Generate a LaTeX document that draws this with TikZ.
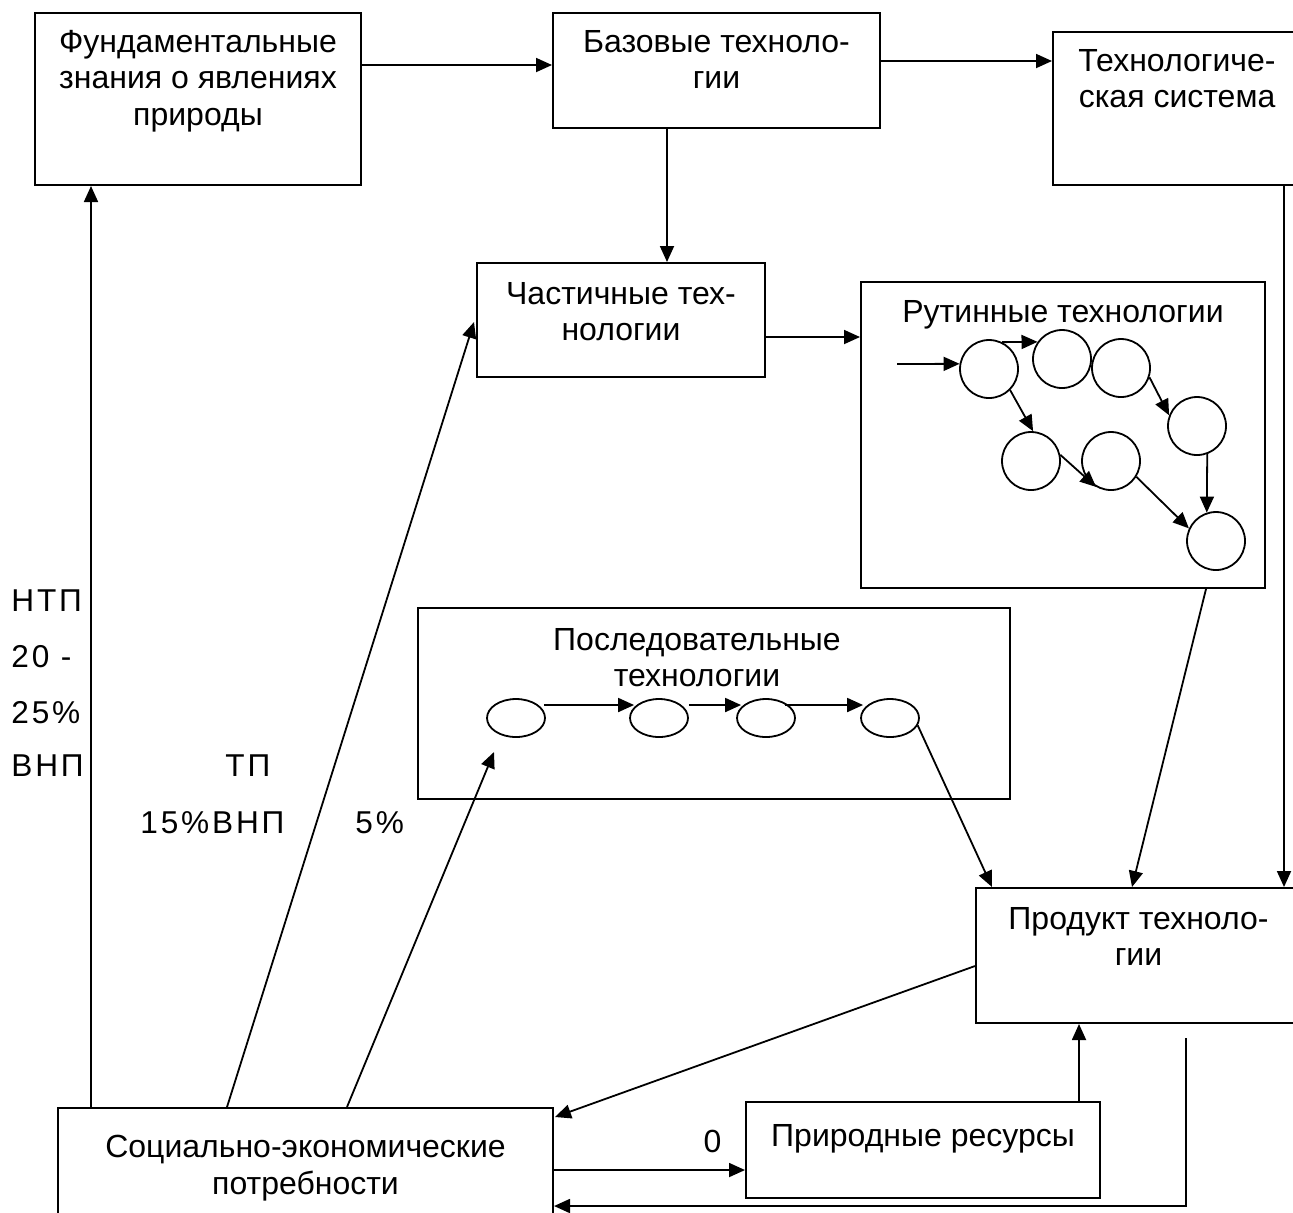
\documentclass[tikz,border=0pt]{standalone}
\usepackage{fontspec}
\setmainfont{Liberation Sans}
\newfontfamily\spcfont[LetterSpace=9]{Liberation Sans}
\usetikzlibrary{arrows.meta,fit,shapes.geometric}
\begin{document}
\begin{tikzpicture}[x=0.5pt,y=-0.5pt,
  box/.style={draw, line width=1pt, inner sep=0pt, rectangle},
  txt/.style={align=center, inner sep=0pt, font=\fontsize{16pt}{18.2pt}\selectfont},
  lbl/.style={inner sep=0pt, anchor=base west, font=\spcfont\fontsize{15.8pt}{18pt}\selectfont},
  arr/.style={line width=0.9pt, -{Triangle[length=8pt,width=7pt]}},
  circ/.style={draw, circle, line width=0.9pt, minimum size=29pt, inner sep=0pt},
  ell/.style={draw, ellipse, line width=0.9pt, minimum width=29pt, minimum height=19pt, inner sep=0pt},
]
\useasboundingbox (0,0) rectangle (1293,1212);
\clip (0,0) rectangle (1293,1212);

% boxes
\node[box, fit={(35,13) (361,185)}] (fund) {};
\node[box, fit={(553,13) (880,128)}] (base) {};
\node[box, fit={(1053,32) (1301,185)}] (tech) {};
\node[box, fit={(477,263) (765,377)}] (part) {};
\node[box, fit={(861,282) (1265,588)}] (rout) {};
\node[box, fit={(418,608) (1010,799)}] (seq) {};
\node[box, fit={(976,888) (1301,1023)}] (prod) {};
\node[box, fit={(58,1108) (553,1240)}] (soc) {};
\node[box, fit={(746,1102) (1100,1198)}] (nat) {};

% box texts
\node[txt, anchor=north] (fundT) at ([shift={(0,18)}]fund.north) {Фундаментальные\\знания о явлениях\\природы};
\node[txt, anchor=north] (baseT) at ([shift={(0,18)}]base.north) {Базовые техноло-\\гии};
\node[txt, anchor=north] (techT) at ([shift={(0,18)}]tech.north) {Технологиче-\\ская система};
\node[txt, anchor=north] (partT) at ([shift={(0,20)}]part.north) {Частичные тех-\\нологии};
\node[txt, anchor=north] (routT) at ([shift={(0,19)}]rout.north) {Рутинные технологии};
\node[txt, anchor=north] (seqT) at ([shift={(-17,21)}]seq.north) {Последовательные\\технологии};
\node[txt, anchor=north] (prodT) at ([shift={(0,20)}]prod.north) {Продукт техноло-\\гии};
\node[txt, anchor=north] (socT) at ([shift={(0,28)}]soc.north) {Социально-экономические\\потребности};
\node[txt, anchor=north] (natT) at ([shift={(0,23)}]nat.north) {Природные ресурсы};

% routine circles
\node[circ] (c1) at (989,369) {};
\node[circ] (c2) at (1062,359) {};
\node[circ] (c3) at (1121,368) {};
\node[circ] (c4) at (1197,426) {};
\node[circ] (c5) at (1031,461) {};
\node[circ] (c6) at (1111,461) {};
\node[circ] (c7) at (1216,541) {};

% sequential ellipses
\node[ell] (e1) at (516,718) {};
\node[ell] (e2) at (659,718) {};
\node[ell] (e3) at (766,718) {};
\node[ell] (e4) at (890,718) {};

% side labels
\node[lbl] (l1) at (11,611) {НТП};
\node[lbl] (l2) at (11,667) {20 -};
\node[lbl] (l3) at (11,723) {25\%};
\node[lbl] (l4) at (11,776) {ВНП};
\node[lbl] (l5) at (225,776) {ТП};
\node[lbl] (l6) at (140,833) {15\%ВНП};
\node[lbl] (l7) at (355,833) {5\%};

% main connectors
\coordinate (f1) at ([shift={(0,-34)}]fund.east);
\draw[arr] (f1) -- (f1 -| base.west);
\coordinate (b1) at ([shift={(0,-9.5)}]base.east);
\draw[arr] (b1) -- (b1 -| tech.west);
\coordinate (b2) at ([shift={(-49.5,0)}]base.south);
\draw[arr] (b2) -- (b2 |- part.north);
\coordinate (p1) at ([shift={(0,17)}]part.east);
\draw[arr] (p1) -- (p1 -| rout.west);
\coordinate (t1) at ([shift={(-18,0)}]tech.south east);
\draw[arr] (t1) -- (t1 |- prod.north);
\draw[arr] ([shift={(-60,0)}]rout.south east) -- ([shift={(157,0)}]prod.north west);
\draw[arr] (e4.-15) -- ([shift={(17,0)}]prod.north west);
\coordinate (s1) at ([shift={(34,0)}]soc.north west);
\draw[arr] (s1) -- (s1 |- fund.south);
\draw[arr] ([shift={(170,0)}]soc.north west) -- ([shift={(-2,2)}]part.west);
\draw[arr] ([shift={(290,0)}]soc.north west) -- ([shift={(-22,34)}]e1.center);
\draw[arr] ([shift={(0,79)}]prod.north west) -- ([shift={(1,10)}]soc.north east);
\coordinate (s4) at ([shift={(0,63)}]soc.north east);
\draw[arr] (s4) -- node[pos=0.83, anchor=base, yshift=9pt, inner sep=0pt, font=\fontsize{16pt}{18pt}\selectfont] (zero) {0} (s4 -| nat.west);
\coordinate (n1) at ([shift={(334,0)}]nat.north west);
\draw[arr] (n1) -- (n1 |- prod.south);
\coordinate (fb) at ([shift={(211,14)}]prod.south west);
\draw[arr] (fb) |- ([shift={(0,99)}]soc.north east);

% routine arrows
\coordinate (in1) at (897,364);
\draw[arr] (in1) -- (c1.170);
\draw[arr] (c1.64) -- (c2.145);
\draw[arr] (c1.-45) -- (c5.86);
\draw[arr] (c3.-18) -- (c4.159);
\draw[arr] (c5.12) -- (c6.-120);
\draw[arr] (c4.-70) -- (c7.108);
\draw[arr] (c6.-32) -- (c7.155);

% sequential arrows
\draw[arr] ([shift={(-2,-13)}]e1.east) -- ([shift={(5,-13)}]e2.west);
\draw[arr] ([shift={(0,-13)}]e2.east) -- ([shift={(5,-13)}]e3.west);
\draw[arr] ([shift={(-11,-13)}]e3.east) -- ([shift={(3,-13)}]e4.west);
\end{tikzpicture}
\end{document}
